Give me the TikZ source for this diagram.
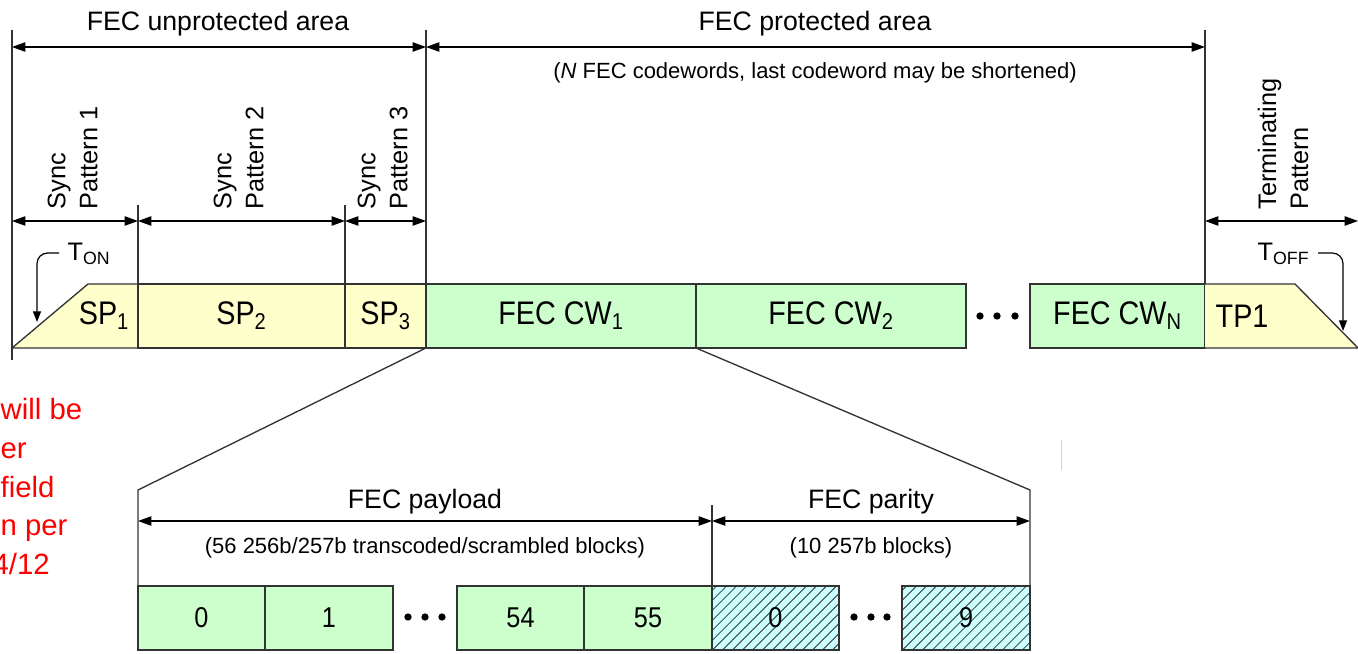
\documentclass[tikz,border=0pt]{standalone}
\usepackage{fontspec}
\setmainfont{Liberation Sans}
\newfontfamily\tallsans[FakeStretch=0.88]{Liberation Sans}
\usetikzlibrary{arrows.meta,patterns.meta}
\definecolor{yel}{HTML}{FFFFCC}
\definecolor{grn}{HTML}{CCFFCC}
\definecolor{cyn}{HTML}{CCFFFF}
\definecolor{edge}{HTML}{333333}
\definecolor{faintred}{HTML}{F2C4C4}
\newcommand\cellnode[7]{\node[#6, anchor=north west, minimum width={(#3-#2)*0.75pt}, minimum height={(#5-#4)*0.75pt}] (#1) at (#2,#4) {#7};}
\begin{document}
\begin{tikzpicture}[x=0.75pt,y=-0.75pt, line width=1pt,
  dim/.style={{Triangle[length=10pt,width=7pt]}-{Triangle[length=10pt,width=7pt]}, draw=black, line width=0.9pt},
  guide/.style={draw=edge, line width=1pt},
  cellbase/.style={draw=edge, line width=1pt, inner sep=0pt, outer sep=0pt},
  barfont/.style={font=\tallsans\fontsize{24.5pt}{28pt}\selectfont},
  numfont/.style={font=\tallsans\fontsize{21.5pt}{25pt}\selectfont},
  ycell/.style={cellbase, fill=yel, barfont},
  gcell/.style={cellbase, fill=grn, barfont},
  bcell/.style={cellbase, fill=grn, numfont},
  hcell/.style={cellbase, preaction={fill=cyn}, pattern={Lines[angle=45,distance=5.3pt,line width=0.6pt]}, pattern color=edge, numfont},
  bartext/.style={inner sep=0pt, barfont},
  title/.style={anchor=base, inner sep=0pt, font=\fontsize{20pt}{24pt}\selectfont},
  note/.style={anchor=base, inner sep=0pt, font=\fontsize{16.5pt}{20pt}\selectfont},
  vlab/.style={rotate=90, anchor=north west, align=left, inner sep=0pt, font=\fontsize{19pt}{24pt}\selectfont},
  tlab/.style={anchor=base west, inner sep=0pt, font=\fontsize{19pt}{22pt}\selectfont},
  hook/.style={draw=black, line width=0.9pt, rounded corners=8pt, -{Triangle[length=8pt,width=6pt]}},
  dotc/.style={fill=black, draw=none, circle, inner sep=0pt, minimum size=5.5pt},
  cutnote/.style={anchor=base west, inner sep=0pt, text=red, font=\fontsize{22pt}{26pt}\selectfont}
]
\useasboundingbox (0,0) rectangle (1358,653);

% ---------- main bar ----------
\fill[yel] (12,348) -- (88,284) -- (138,284) -- (138,348) -- cycle;
\draw[guide] (12,348) -- (88,284) -- (138,284) (12,348) -- (138,348);
\node[bartext] (sp1) at (104,316) {SP\textsubscript{1}};
\cellnode{sp2}{138}{345}{284}{348}{ycell}{SP\textsubscript{2}}
\cellnode{sp3}{345}{426}{284}{348}{ycell}{SP\textsubscript{3}}
\cellnode{cw1}{426}{696}{284}{348}{gcell}{FEC CW\textsubscript{1}}
\cellnode{cw2}{696}{966}{284}{348}{gcell}{FEC CW\textsubscript{2}}
\cellnode{cwn}{1030}{1205}{284}{348}{gcell}{FEC CW\textsubscript{N}}
\fill[yel] (1205,284) -- (1295,284) -- (1358,348) -- (1205,348) -- cycle;
\draw[guide] (1205,284) -- (1295,284) -- (1358,348) (1205,348) -- (1358,348);
\node[bartext, anchor=west] (tp1) at (1215,316) {TP1};
\node[dotc] (da1) at (980,316) {};
\node[dotc] (da2) at (997,316) {};
\node[dotc] (da3) at (1015,316) {};

% ---------- guides ----------
\coordinate (g0t) at (12,30);   \coordinate (g0b) at (12,360);
\coordinate (g1t) at (426,30);
\coordinate (g2t) at (1205,30);
\coordinate (g3t) at (138,205);
\coordinate (g4t) at (345,205);
\draw[guide] (g0t) -- (g0b);
\draw[guide] (g1t) -- (cw1.north west);
\draw[guide] (g2t) -- (cwn.north east);
\draw[guide] (g3t) -- (sp2.north west);
\draw[guide] (g4t) -- (sp3.north west);

% ---------- top dimension arrows ----------
\coordinate (a0) at (12,47); \coordinate (a1) at (426,47); \coordinate (a2) at (1205,47);
\draw[dim] (a0) -- (a1);
\draw[dim] (a1) -- (a2);
\node[title] (tunp) at (218,31) {FEC unprotected area};
\node[title] (tprot) at (815,31) {FEC protected area};
\node[note] (tncw) at (815,78) {(\textit{N} FEC codewords, last codeword may be shortened)};

\coordinate (b0) at (12,221); \coordinate (b1) at (138,221); \coordinate (b2) at (345,221);
\coordinate (b3) at (426,221); \coordinate (b4) at (1205,221); \coordinate (b5) at (1358,221);
\draw[dim] (b0) -- (b1);
\draw[dim] (b1) -- (b2);
\draw[dim] (b2) -- (b3);
\draw[dim] (b4) -- (b5);
\node[vlab] (lsp1) at (47,210) {Sync\\Pattern 1};
\node[vlab] (lsp2) at (213,210) {Sync\\Pattern 2};
\node[vlab] (lsp3) at (357,210) {Sync\\Pattern 3};
\node[vlab] (ltp) at (1257,210) {Terminating\\Pattern};

% ---------- T_ON / T_OFF ----------
\node[tlab] (ton) at (67,260) {T\textsubscript{ON}};
\node[tlab] (toff) at (1257,260) {T\textsubscript{OFF}};
\coordinate (h1a) at (59,253); \coordinate (h1b) at (37,322);
\coordinate (h2a) at (1318,253); \coordinate (h2b) at (1343,331);
\draw[hook] (h1a) -| (h1b);
\draw[hook] (h2a) -| (h2b);

% ---------- zoomed codeword ----------
\cellnode{k0}{138}{265}{586}{650}{bcell}{0}
\cellnode{k1}{265}{393}{586}{650}{bcell}{1}
\cellnode{k54}{457}{584}{586}{650}{bcell}{54}
\cellnode{k55}{584}{712}{586}{650}{bcell}{55}
\cellnode{p0}{712}{839}{586}{650}{hcell}{0}
\cellnode{p9}{902}{1030}{586}{650}{hcell}{9}
\node[dotc] (db1) at (408,617) {};
\node[dotc] (db2) at (425,617) {};
\node[dotc] (db3) at (442,617) {};
\node[dotc] (dc1) at (854,617) {};
\node[dotc] (dc2) at (871,617) {};
\node[dotc] (dc3) at (887,617) {};

\coordinate (zl) at (138,490); \coordinate (zr) at (1030,490); \coordinate (zm) at (712,505);
\draw[guide] (cw1.south west) -- (zl) -- (k0.north west);
\draw[guide] (cw2.south west) -- (zr) -- (p9.north east);
\draw[guide] (zm) -- (k55.north east);

\coordinate (c0) at (138,521); \coordinate (c1) at (712,521); \coordinate (c2) at (1030,521);
\draw[dim] (c0) -- (c1);
\draw[dim] (c1) -- (c2);
\node[title] (tpay) at (425,508) {FEC payload};
\node[note] (npay) at (425,553) {(56 256b/257b transcoded/scrambled blocks)};
\node[title] (tpar) at (871,508) {FEC parity};
\node[note] (npar) at (871,553) {(10 257b blocks)};

% ---------- cut-off red note ----------
\node[cutnote] (r1) at (0,419) {will be};
\node[cutnote] (r2) at (0,458) {er};
\node[cutnote] (r3) at (0,497) {field};
\node[cutnote] (r4) at (0,535) {n per};
\node[cutnote] (r5) at (-8,574) {4/12};
\draw[faintred, line width=0.6pt] (1061,440) -- (1061,470);
\end{tikzpicture}
\end{document}
